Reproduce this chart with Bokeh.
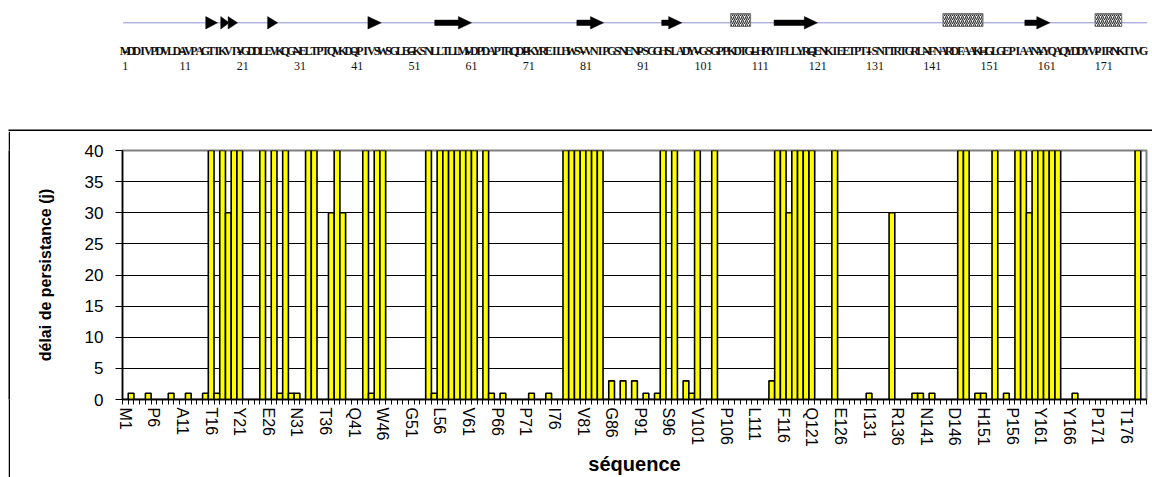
from bokeh.plotting import figure
from bokeh.layouts import column, row
from bokeh.models import Range1d, FixedTicker, ColumnDataSource, Spacer
from bokeh.core.properties import value
from bokeh.embed import file_html
from bokeh.resources import INLINE

# ---------------- data ----------------
sequence = ("MDDIVPDVLDAVPAGTIKVIYGDDLEVKQGNELTPTQVKDQPIVSWSGLEGKSNLLTLLM"
            "VDPDAPTRQDPKYREILHWSVVNIPGSNENPSGGHSLADYVGSGPPKDTGLHRYIFLLYR"
            "QENKIEETPTISNTTRTGRLNFNARDFAAKHGLGEPIAANYYQAQYDDYVPIRNKTIVG")

# persistence delay (days) per residue 1..179
persistence = [
    0, 1, 0, 0, 1, 0, 0, 0, 1, 0,        # 1-10
    0, 1, 0, 0, 1, 40, 1, 40, 30, 40,    # 11-20
    40, 0, 0, 0, 40, 0, 40, 1, 40, 1,    # 21-30
    1, 0, 40, 40, 0, 0, 30, 40, 30, 0,   # 31-40
    0, 0, 40, 1, 40, 40, 0, 0, 0, 0,     # 41-50
    0, 0, 0, 40, 1, 40, 40, 40, 40, 40,  # 51-60
    40, 40, 0, 40, 1, 0, 1, 0, 0, 0,     # 61-70
    0, 1, 0, 0, 1, 0, 0, 40, 40, 40,     # 71-80
    40, 40, 40, 40, 0, 3, 0, 3, 0, 3,    # 81-90
    0, 1, 0, 1, 40, 0, 40, 0, 3, 1,      # 91-100
    40, 0, 0, 40, 0, 0, 0, 0, 0, 0,      # 101-110
    0, 0, 0, 3, 40, 40, 30, 40, 40, 40,  # 111-120
    40, 0, 0, 0, 40, 0, 0, 0, 0, 0,      # 121-130
    1, 0, 0, 0, 30, 0, 0, 0, 1, 1,       # 131-140
    0, 1, 0, 0, 0, 0, 40, 40, 0, 1,      # 141-150
    1, 0, 40, 0, 1, 0, 40, 40, 30, 40,   # 151-160
    40, 40, 40, 40, 0, 0, 1, 0, 0, 0,    # 161-170
    0, 0, 0, 0, 0, 0, 0, 40, 0,          # 171-179
]

y_ticks = [0, 5, 10, 15, 20, 25, 30, 35, 40]
label_step = 5
numbered_residues = [1, 11, 21, 31, 41, 51, 61, 71, 81, 91, 101, 111, 121, 131, 141, 151, 161, 171]

# secondary structure (start, end) in residue coordinates
strands = [(15.05, 17.10), (17.68, 19.14), (18.96, 20.61), (25.87, 27.62), (43.40, 45.73),
           (55.08, 61.51), (79.92, 84.60), (94.76, 98.27), (114.40, 121.99), (158.23, 162.62)]
helices = [(106.80, 110.30), (143.91, 150.92), (170.50, 175.17)]

# ---------------- layout constants ----------------
N = len(sequence)
residues = list(range(1, N + 1))
names = [f"{aa}{i}" for aa, i in zip(sequence, residues)]

PAGE_W = 1152
TOP_H = 131
MAIN_H = 346
PAD_W = 8
STRIP_W = 2
MAIN_W = PAGE_W - PAD_W - STRIP_W
FRAME_LEFT_PAGE = 122
BORDER_LEFT = FRAME_LEFT_PAGE - PAD_W - STRIP_W
BORDER_RIGHT = 6
frame_w = MAIN_W - BORDER_LEFT - BORDER_RIGHT
px_per_res = frame_w / N

# ---------------- top: secondary structure + sequence ----------------
r_left = 0.5 + (0 - FRAME_LEFT_PAGE) / px_per_res
r_right = 0.5 + (PAGE_W - FRAME_LEFT_PAGE) / px_per_res

top = figure(width=PAGE_W, height=TOP_H, x_range=Range1d(r_left, r_right),
             y_range=Range1d(TOP_H, 0), toolbar_location=None, output_backend="svg",
             min_border=0, outline_line_color=None,
             x_axis_location=None, y_axis_location=None,
             background_fill_color="white", border_fill_color="white")
top.grid.visible = False

Y_BB = 22.3
top.line(x=[0.6, 179.6], y=[Y_BB, Y_BB], line_color="#8f8fd0", line_width=1)

xs, ys = [], []
HH, SH, HL = 6.2, 2.7, 2.3
for a, b in strands:
    hl = min(HL, b - a)
    m = b - hl
    if m > a + 0.05:
        xs.append([a, m, m, b, m, m, a])
        ys.append([Y_BB - SH, Y_BB - SH, Y_BB - HH, Y_BB, Y_BB + HH, Y_BB + SH, Y_BB + SH])
    else:
        xs.append([a, b, a])
        ys.append([Y_BB - HH, Y_BB, Y_BB + HH])
top.patches(xs=xs, ys=ys, fill_color="black", line_color="black", line_width=0.5)

Y_HX = 19.5
top.quad(left=[h[0] for h in helices], right=[h[1] for h in helices],
         top=[Y_HX - 6.5] * len(helices), bottom=[Y_HX + 6.5] * len(helices),
         fill_color="white", line_color="#777777", line_width=1,
         hatch_pattern="/", hatch_color="#333333", hatch_scale=4, hatch_weight=1.2)

seq_src = ColumnDataSource(dict(x=residues, y=[50] * N, t=list(sequence)))
top.text(x="x", y="y", text="t", source=seq_src, text_align="center",
         text_baseline="alphabetic", text_font=value("Liberation Serif"),
         text_font_style="bold", text_font_size="12px", text_color="#111111")

top.segment(x0=[r - 0.45 for r in numbered_residues], x1=[r + 0.45 for r in numbered_residues],
            y0=[51.6] * len(numbered_residues), y1=[51.6] * len(numbered_residues),
            line_color="black", line_width=1.3)
top.text(x=numbered_residues, y=[65] * len(numbered_residues),
         text=[str(r) for r in numbered_residues], text_align="left", x_offset=-3,
         text_baseline="alphabetic", text_font=value("Liberation Serif"),
         text_font_size="12px", text_color="#111111")

# outer chart-area border (top edge)
top.segment(x0=[0.5 + (PAD_W - FRAME_LEFT_PAGE) / px_per_res], x1=[r_right], y0=[130], y1=[130],
            line_color="black", line_width=2)

# ---------------- left padding + border strip ----------------
pad = Spacer(width=PAD_W, height=MAIN_H)
strip = figure(width=STRIP_W, height=MAIN_H, toolbar_location=None, output_backend="svg",
               min_border=0, outline_line_color=None, x_axis_location=None,
               y_axis_location=None, background_fill_color="black",
               border_fill_color="black", x_range=Range1d(0, 1), y_range=Range1d(0, 1))
strip.grid.visible = False

# ---------------- main bar chart ----------------
p = figure(width=MAIN_W, height=MAIN_H, x_range=Range1d(0.5, N + 0.5), y_range=Range1d(0, 40),
           toolbar_location=None, output_backend="svg",
           min_border_left=BORDER_LEFT, min_border_right=BORDER_RIGHT,
           min_border_top=19, min_border_bottom=75,
           background_fill_color="white", border_fill_color="white",
           outline_line_color="#808080", outline_line_width=2)

src = ColumnDataSource(dict(x=residues, top=persistence, name=names))
p.vbar(x="x", top="top", width=1.0, source=src, fill_color="#FFFF00",
       line_color="black", line_width=1.6)

# y axis
p.yaxis.ticker = FixedTicker(ticks=y_ticks)
p.ygrid.ticker = FixedTicker(ticks=y_ticks)
p.ygrid.grid_line_color = "black"
p.ygrid.grid_line_width = 1
p.xgrid.grid_line_color = None
p.yaxis.axis_line_color = "black"
p.yaxis.axis_line_width = 1.5
p.yaxis.major_tick_out = 7
p.yaxis.major_tick_in = 0
p.yaxis.major_tick_line_color = "black"
p.yaxis.minor_tick_line_color = None
p.yaxis.major_label_standoff = 12
p.yaxis.major_label_text_font = "Liberation Sans"
p.yaxis.major_label_text_font_size = "17px"
p.yaxis.major_label_text_color = "black"
p.yaxis.axis_label = "délai de persistance (j)"
p.yaxis.axis_label_text_font = "Liberation Sans"
p.yaxis.axis_label_text_font_style = "bold"
p.yaxis.axis_label_text_font_size = "16px"
p.yaxis.axis_label_text_color = "black"
p.yaxis.axis_label_standoff = 28

# x axis
label_pos = residues[::label_step]
p.xaxis.ticker = FixedTicker(ticks=label_pos, minor_ticks=[r - 0.5 for r in residues] + [N + 0.5])
p.xaxis.major_label_overrides = {r: names[r - 1] for r in label_pos}
p.xaxis.major_label_orientation = "vertical"
p.xaxis.major_tick_out = 5
p.xaxis.major_tick_in = 0
p.xaxis.major_tick_line_color = None
p.xaxis.minor_tick_out = 5
p.xaxis.minor_tick_in = 0
p.xaxis.minor_tick_line_color = "black"
p.xaxis.axis_line_color = "black"
p.xaxis.axis_line_width = 1.5
p.xaxis.major_label_standoff = 3
p.xaxis.major_label_text_font = "Liberation Sans"
p.xaxis.major_label_text_font_size = "16px"
p.xaxis.major_label_text_color = "black"
p.xaxis.axis_label = "séquence"
p.xaxis.axis_label_text_font = "Liberation Sans"
p.xaxis.axis_label_text_font_style = "bold"
p.xaxis.axis_label_text_font_size = "20px"
p.xaxis.axis_label_text_color = "black"
p.xaxis.axis_label_standoff = 3

layout = column(top, row(pad, strip, p, spacing=0), spacing=0)

open("out.html", "w").write(file_html(layout, INLINE))
